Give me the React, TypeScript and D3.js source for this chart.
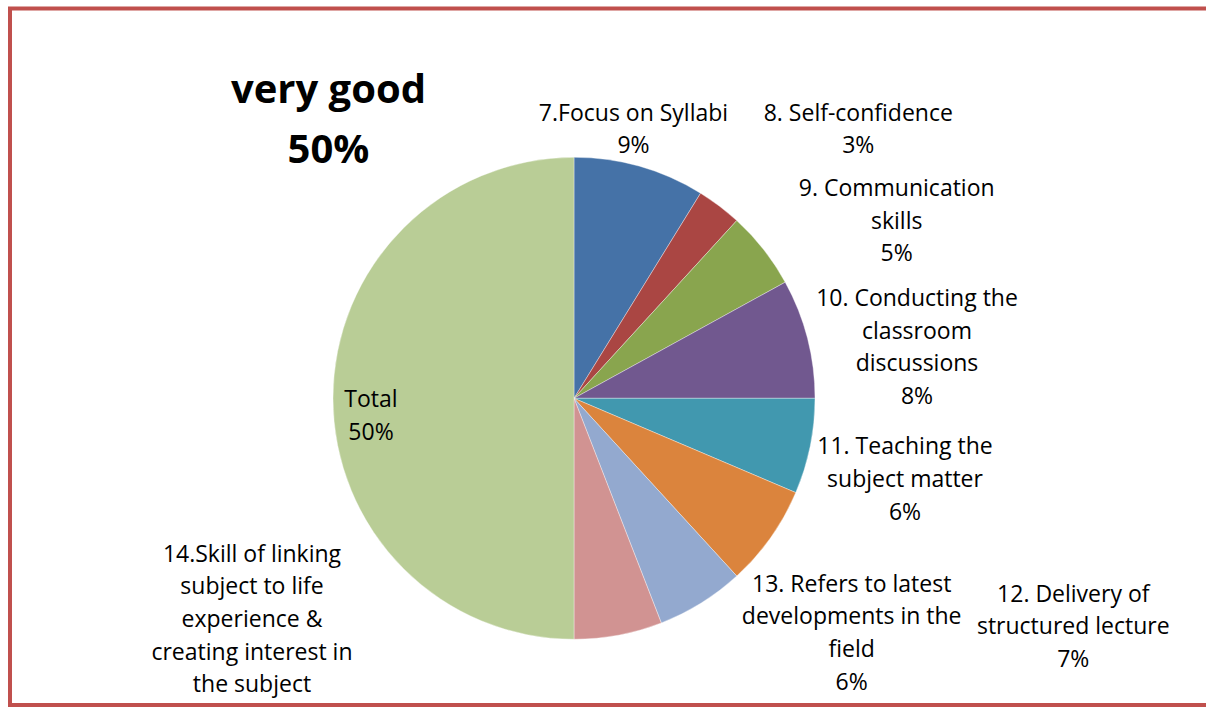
import { arc, pie, format } from "d3";

const categories = [
  "7.Focus on Syllabi",
  "8. Self-confidence",
  "9. Communication skills",
  "10. Conducting the classroom discussions",
  "11. Teaching the subject matter",
  "12. Delivery of structured lecture",
  "13. Refers to latest developments in the field",
  "14.Skill of linking subject to life experience & creating interest in the subject",
  "Total",
];

// share of the "very good" responses, in percent
const values = [8.8, 3.0, 5.2, 8.0, 6.4, 6.8, 5.9, 5.9, 50];

// how each category label wraps in the chart
const labelLines = [
  ["7.Focus on Syllabi"],
  ["8. Self-confidence"],
  ["9. Communication", "skills"],
  ["10. Conducting the", "classroom", "discussions"],
  ["11. Teaching the", "subject matter"],
  ["12. Delivery of", "structured lecture"],
  ["13. Refers to latest", "developments in the", "field"],
  ["14.Skill of linking", "subject to life", "experience &", "creating interest in", "the subject"],
  ["Total"],
];
const showPercent = [true, true, true, true, true, true, true, false, true];

const colors = [
  "#4572A7",
  "#AA4643",
  "#89A54E",
  "#71588F",
  "#4198AF",
  "#DB843D",
  "#93A9CF",
  "#D19392",
  "#B9CD96",
];

const title = ["very good", "50%"];

// label anchors relative to the pie centre (centre x, first baseline)
const labelOffsets: [number, number][] = [
  [59.5, -277.6],
  [284.3, -277.6],
  [322.7, -202.3],
  [343, -92.3],
  [331, 56],
  [499.3, 203.4],
  [277.7, 193.4],
  [-322, 163.4],
  [-203, 9],
];

export default function App() {
  const width = 1206;
  const height = 707;
  const cx = 574;
  const cy = 398.3;
  const radius = 241;
  const lineHeight = 32.6;
  const font = "'Open Sans', sans-serif";

  const total = values.reduce((a, b) => a + b, 0);
  const pct = format(".0%");

  const slices = pie<number>()
    .sort(null)
    .value((d) => d)(values);

  const slicePath = arc<any>().innerRadius(0).outerRadius(radius);

  return (
    <svg
      width={width}
      height={height}
      viewBox={`0 0 ${width} ${height}`}
      style={{ position: "absolute", left: 0, top: 0, background: "#fff" }}
    >
      <rect
        x={10}
        y={8.5}
        width={width + 20}
        height={696.5}
        fill="#fff"
        stroke="#C0504D"
        strokeWidth={4}
      />
      <g transform={`translate(${cx},${cy})`}>
        {slices.map((s, i) => (
          <path
            key={categories[i]}
            d={slicePath(s) ?? ""}
            fill={colors[i]}
            stroke="#ffffff"
            strokeOpacity={0.6}
            strokeWidth={0.6}
          />
        ))}
      </g>
      <g fontFamily={font} fontSize={23} fill="#000" textAnchor="middle">
        {labelLines.map((lines, i) => {
          const [dx, dy] = labelOffsets[i];
          const all = showPercent[i]
            ? [...lines, pct(values[i] / total)]
            : lines;
          return (
            <text key={`label-${i}`} x={cx + dx} y={cy + dy}>
              {all.map((line, j) => (
                <tspan key={j} x={cx + dx} dy={j === 0 ? 0 : lineHeight}>
                  {line}
                </tspan>
              ))}
            </text>
          );
        })}
      </g>
      <text
        x={328.5}
        y={103}
        fontFamily={font}
        fontSize={40}
        fontWeight="bold"
        textAnchor="middle"
      >
        <tspan x={328.5}>{title[0]}</tspan>
        <tspan x={328.5} dy={60.3}>
          {title[1]}
        </tspan>
      </text>
    </svg>
  );
}
